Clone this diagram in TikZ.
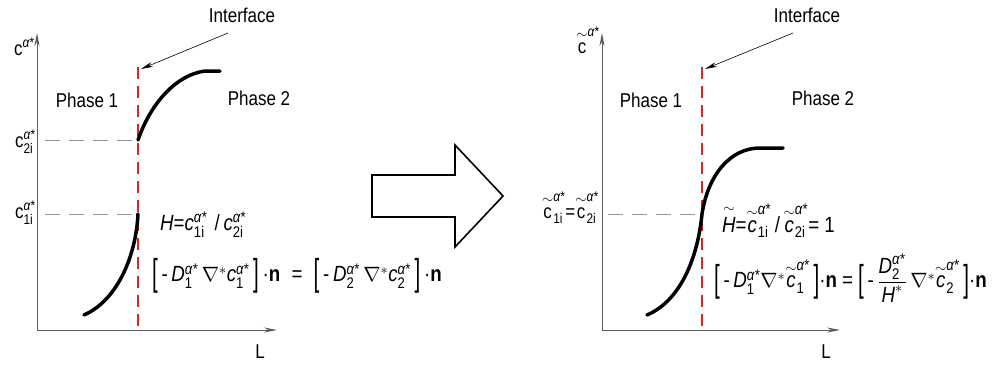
\documentclass[tikz,border=0pt]{standalone}
\usepackage{amsmath}
\usepackage{fontspec}
\setmainfont{Liberation Sans}[FakeStretch=0.85]
\usepackage{tikz}
\usetikzlibrary{arrows.meta}
\definecolor{ifacered}{RGB}{225,35,35}
\definecolor{guidegray}{RGB}{150,150,150}
\definecolor{axisgray}{RGB}{90,90,90}
\newcommand{\al}{\text{\textit{α}*}}
\newcommand{\tl}[1]{\overset{\sim}{\text{#1}}}
\newcommand{\lbr}{\raisebox{-0.17em}{\scalebox{1.1}[1.7]{[}}\,}
\newcommand{\rbr}{\,\raisebox{-0.17em}{\scalebox{1.1}[1.7]{]}}}

\begin{document}
\begin{tikzpicture}[x=1pt,y=-1pt,
    axis/.style={line width=0.9pt,axisgray,-{Stealth[length=13pt,width=5pt]}},
    guide/.style={guidegray,line width=0.9pt,dash pattern=on 15pt off 9pt},
    iface/.style={ifacered,line width=2pt,dash pattern=on 12pt off 7pt},
    pointer/.style={line width=0.6pt,-{Stealth[length=12pt,width=5pt]}},
    profile/.style={line width=3.5pt,line cap=round},
    lbl/.style={font=\fontsize{20}{24}\selectfont,inner sep=0pt},
    eqn/.style={font=\fontsize{22}{26}\selectfont,inner sep=0pt}]
    \useasboundingbox (0,0) rectangle (997,365);

    % Before: H not equal to 1
    \coordinate (O1) at (37,330);
    \coordinate (Y1) at (37,33);
    \coordinate (X1) at (277,330);
    \draw[axis] (O1) -- (Y1);
    \draw[axis] (O1) -- (X1);
    \node[lbl] (L1) at (260,352) {L};
    \node[lbl,anchor=base east] (cy1) at (35,55) {$\text{c}^{\al}$};

    \coordinate (T1) at (138,67);
    \coordinate (B1) at (138,332);
    \draw[iface] (T1) -- (B1);
    \node[lbl] (if1) at (242,15) {Interface};
    \coordinate (ia1) at (228,33);
    \coordinate (ip1) at (141,69);
    \draw[pointer] (ia1) -- (ip1);

    \node[lbl] (ph11) at (87,100) {Phase 1};
    \node[lbl] (ph12) at (259,98) {Phase 2};

    \coordinate (p2) at (138,140);
    \coordinate (p1) at (138,214);
    \coordinate (g2) at (45,140);
    \coordinate (g1) at (45,214);
    \draw[guide] (g2) -- (p2);
    \draw[guide] (g1) -- (p1);
    \node[lbl,anchor=base east] (c2i) at (36,147) {$\text{c}^{\al}_{\text{2i}}$};
    \node[lbl,anchor=base east] (c1i) at (36,218) {$\text{c}^{\al}_{\text{1i}}$};

    \draw[profile] (84,315) .. controls (118,300) and (136,255) .. (p1);
    \draw[profile] (p2) .. controls (150,105) and (175,75) .. (205,71) -- (220,71);

    \node[eqn,anchor=base west] (h1) at (160,230)
        {\textit{H}=\textit{c}$^{\al}_{\text{1i}}$\,\,/\,\textit{c}$^{\al}_{\text{2i}}$};
    \node[eqn,anchor=west] (fl1) at (152,276)
        {\lbr-\,\textit{D}$^{\al}_{\text{1}}\,\nabla^{*}$\textit{c}$^{\al}_{\text{1}}$\rbr\,·\textbf{n}\;
         =\; \lbr-\,\textit{D}$^{\al}_{\text{2}}\,\nabla^{*}$\textit{c}$^{\al}_{\text{2}}$\rbr\,·\textbf{n}};

    % Arrow
    \draw[line width=1.6pt,line join=miter] (372,175) -- (455,175) -- (455,145) -- (503,196)
        -- (455,247) -- (455,217) -- (372,217) -- cycle;

    % After: H equal to 1
    \coordinate (O2) at (602,330);
    \coordinate (Y2) at (602,33);
    \coordinate (X2) at (840,330);
    \draw[axis] (O2) -- (Y2);
    \draw[axis] (O2) -- (X2);
    \node[lbl] (L2) at (826,352) {L};
    \node[lbl,anchor=base east] (cy2) at (600,53) {$\tl{c}^{\al}$};

    \coordinate (T2) at (702,67);
    \coordinate (B2) at (702,332);
    \draw[iface] (T2) -- (B2);
    \node[lbl] (if2) at (807,15) {Interface};
    \coordinate (ia2) at (793,33);
    \coordinate (ip2) at (705,69);
    \draw[pointer] (ia2) -- (ip2);

    \node[lbl] (ph21) at (651,100) {Phase 1};
    \node[lbl] (ph22) at (823,98) {Phase 2};

    \coordinate (p3) at (702,214);
    \coordinate (g3) at (608,214);
    \draw[guide] (g3) -- (p3);
    \node[lbl,anchor=base east] (c12i) at (599,218)
        {$\tl{c}^{\al}_{\text{1i}}\text{=}\tl{c}^{\al}_{\text{2i}}$};

    \draw[profile] (647,315) .. controls (682,300) and (698,255) .. (p3)
        .. controls (708,175) and (730,148) .. (760,148) -- (783,148);

    \node[eqn,anchor=base west] (h2) at (722,232)
        {$\tl{\textit{H}}$=$\tl{\textit{c}}^{\al}_{\text{1i}}$\,/\,$\tl{\textit{c}}^{\al}_{\text{2i}}$= 1};
    \node[eqn,anchor=west] (fl2) at (714,278)
        {\lbr-\,\textit{D}$^{\al}_{\text{1}}\nabla^{*}\tl{\textit{c}}^{\al}_{\text{1}}$\rbr·\textbf{n}
         = \lbr-\,$\dfrac{\text{\textit{D}}^{\al}_{\text{2}}}{\text{\textit{H}}^{*}}\,\nabla^{*}\tl{\textit{c}}^{\al}_{\text{2}}$\rbr·\textbf{n}};
\end{tikzpicture}
\end{document}
